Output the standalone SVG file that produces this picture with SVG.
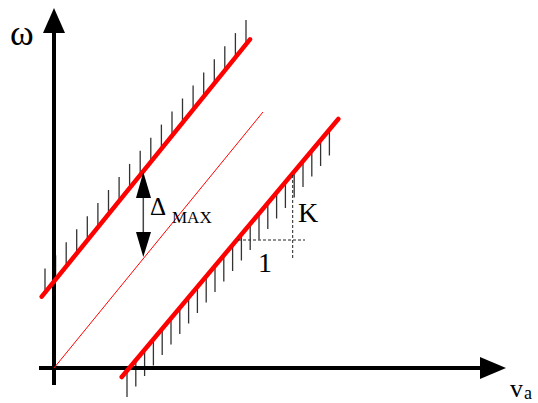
<svg xmlns="http://www.w3.org/2000/svg" width="538" height="403" viewBox="0 0 538 403">
<style>
.ax{stroke:#000;stroke-width:4;fill:none}
.ah{fill:#000;stroke:none}
.red{stroke:#ff0000;stroke-width:4.5;stroke-linecap:round;fill:none}
.thin{stroke:#ff0000;stroke-width:1;fill:none}
.tk{stroke:#333;stroke-width:1.3}
.dash{stroke:#222;stroke-width:1;stroke-dasharray:3 2;fill:none}
.t{font-family:"Liberation Serif","Times New Roman",serif;fill:#000}
</style>
<rect width="538" height="403" fill="#fff"/>
<g id="hatch-upper" class="tk">
<line x1="45" y1="294" x2="45" y2="268.5"/>
<line x1="55.6" y1="281" x2="55.6" y2="255.4"/>
<line x1="66.2" y1="268" x2="66.2" y2="242.3"/>
<line x1="76.7" y1="255" x2="76.7" y2="229.2"/>
<line x1="87.3" y1="242" x2="87.3" y2="216.2"/>
<line x1="97.9" y1="229" x2="97.9" y2="203.1"/>
<line x1="108.5" y1="216" x2="108.5" y2="190"/>
<line x1="119.1" y1="203" x2="119.1" y2="176.9"/>
<line x1="129.6" y1="190" x2="129.6" y2="163.9"/>
<line x1="140.2" y1="177" x2="140.2" y2="150.8"/>
<line x1="150.8" y1="164" x2="150.8" y2="137.7"/>
<line x1="161.4" y1="151" x2="161.4" y2="124.6"/>
<line x1="172" y1="138" x2="172" y2="111.6"/>
<line x1="182.5" y1="125" x2="182.5" y2="98.5"/>
<line x1="193.1" y1="112" x2="193.1" y2="85.4"/>
<line x1="203.7" y1="99" x2="203.7" y2="72.4"/>
<line x1="214.3" y1="86" x2="214.3" y2="59.3"/>
<line x1="224.8" y1="73" x2="224.8" y2="46.2"/>
<line x1="235.4" y1="60" x2="235.4" y2="33.1"/>
<line x1="246" y1="47" x2="246" y2="20.1"/>
</g>
<g id="hatch-lower" class="tk">
<line x1="127" y1="369" x2="127" y2="397"/>
<line x1="135.8" y1="359" x2="135.8" y2="386.5"/>
<line x1="144.6" y1="348" x2="144.6" y2="376"/>
<line x1="153.4" y1="338" x2="153.4" y2="365.5"/>
<line x1="162.2" y1="327" x2="162.2" y2="355"/>
<line x1="171" y1="317" x2="171" y2="344.5"/>
<line x1="179.8" y1="306" x2="179.8" y2="334"/>
<line x1="188.6" y1="296" x2="188.6" y2="323.5"/>
<line x1="197.4" y1="285" x2="197.4" y2="313"/>
<line x1="206.2" y1="275" x2="206.2" y2="302.5"/>
<line x1="215" y1="264" x2="215" y2="292"/>
<line x1="223.8" y1="254" x2="223.8" y2="281.5"/>
<line x1="232.6" y1="243" x2="232.6" y2="271"/>
<line x1="241.4" y1="233" x2="241.4" y2="260.5"/>
<line x1="250.2" y1="222" x2="250.2" y2="250"/>
<line x1="259" y1="212" x2="259" y2="239.5"/>
<line x1="267.8" y1="201" x2="267.8" y2="229"/>
<line x1="276.6" y1="191" x2="276.6" y2="218.5"/>
<line x1="285.4" y1="180" x2="285.4" y2="208"/>
<line x1="294.2" y1="170" x2="294.2" y2="197.5"/>
<line x1="303" y1="159" x2="303" y2="187"/>
<line x1="311.8" y1="149" x2="311.8" y2="176.5"/>
<line x1="320.6" y1="138" x2="320.6" y2="166"/>
<line x1="329.4" y1="128" x2="329.4" y2="155.5"/>
</g>
<g id="axes">
<line class="ax" x1="54" y1="385" x2="54" y2="30"/>
<polygon class="ah" points="54,8 43,33 65,33"/>
<line class="ax" x1="39" y1="368" x2="483" y2="368"/>
<polygon class="ah" points="506,368 480,357 480,379"/>
</g>
<g id="lines">
<line class="thin" x1="54" y1="368" x2="263" y2="112"/>
<line class="red" x1="41.7" y1="296.7" x2="250" y2="39.3"/>
<line class="red" x1="121.7" y1="377" x2="338.3" y2="119"/>
</g>
<g id="slope-guide">
<line class="dash" x1="238" y1="240" x2="305" y2="240"/>
<line class="dash" x1="292.7" y1="175" x2="292.7" y2="259"/>
</g>
<g id="delta-arrow">
<line x1="143.3" y1="195" x2="143.3" y2="235" stroke="#444" stroke-width="1.5"/>
<polygon class="ah" points="143.3,172 136,198 151,198"/>
<polygon class="ah" points="143.3,257 136,232 151,232"/>
</g>
<g id="labels">
<text class="t" x="10" y="45" font-size="36">ω</text>
<text class="t" x="150" y="215" font-size="25">Δ</text>
<text class="t" x="172" y="223" font-size="17">MAX</text>
<text class="t" x="298" y="222" font-size="28">K</text>
<text class="t" x="258" y="272" font-size="28">1</text>
<text class="t" x="510" y="397" font-size="26">v</text>
<text class="t" x="524" y="399" font-size="18">a</text>
</g>
</svg>
